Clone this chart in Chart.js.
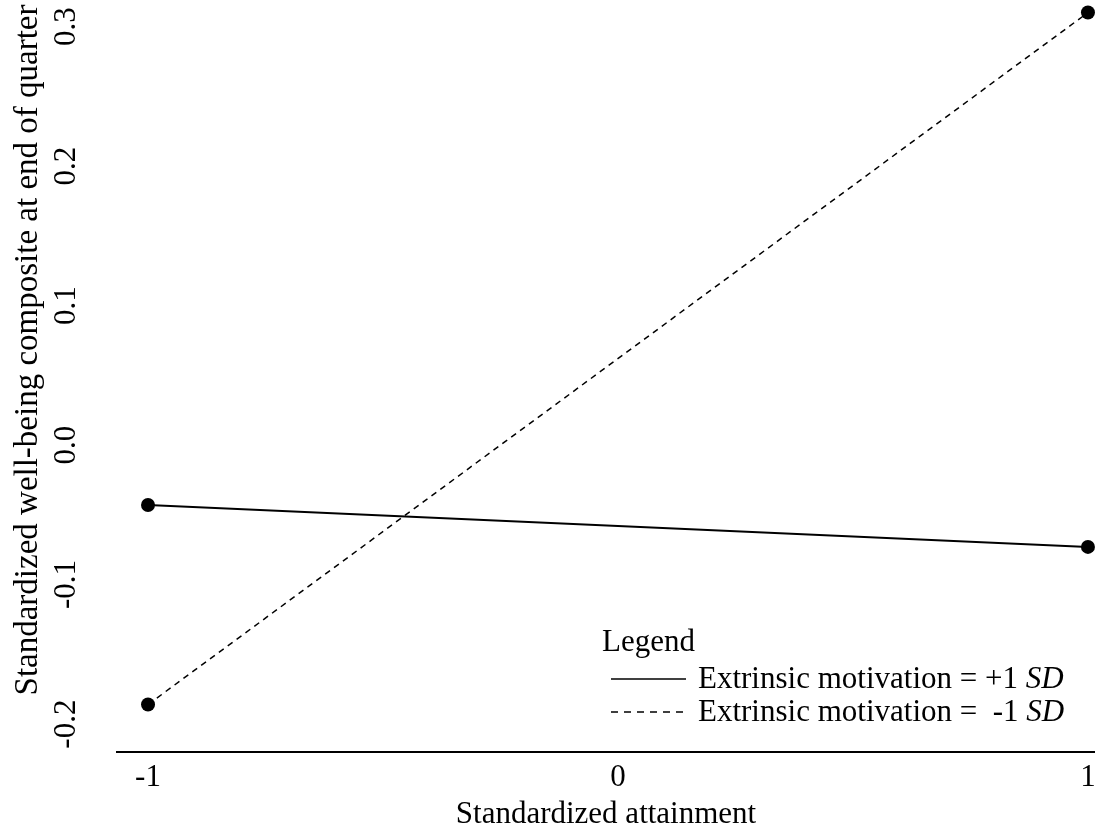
<!DOCTYPE html>
<html>
<head>
<meta charset="utf-8">
<script src="https://cdn.jsdelivr.net/npm/chart.js@4/dist/chart.umd.min.js"></script>
<style>
  html, body { margin: 0; padding: 0; background: #fff; overflow: hidden; }
  #wrap { width: 1095px; height: 828px; position: relative; }
</style>
</head>
<body>
<div id="wrap"><canvas id="chart"></canvas></div>
<script>
const xValues = [-1, 1];
const xTicks = [-1, 0, 1];
const yTicks = [-0.2, -0.1, 0.0, 0.1, 0.2, 0.3];
const highExtrinsic = [-0.043, -0.073];
const lowExtrinsic = [-0.186, 0.31];

const seriesLabels = ["Extrinsic motivation = +1 ", "Extrinsic motivation =  -1 "];
const seriesUnit = "SD";
const legendTitle = "Legend";
const xTitle = "Standardized attainment";
const yTitle = "Standardized well-being composite at end of quarter";

const FONT = '"Liberation Serif", "Times New Roman", serif';

const toPoints = (vals) => xValues.map((x, i) => ({ x: x, y: vals[i] }));

// tick labels, y title and legend are drawn by hand (rotated text, italic SD)
const extras = {
  id: "extras",
  afterDraw(chart) {
    const ctx = chart.ctx;
    const x = chart.scales.x;
    const y = chart.scales.y;
    ctx.save();
    ctx.fillStyle = "#000";
    ctx.font = "31px " + FONT;
    ctx.textAlign = "center";
    ctx.textBaseline = "alphabetic";
    xTicks.forEach(v => {
      ctx.fillText(String(v), x.getPixelForValue(v), 786);
    });
    yTicks.forEach(v => {
      ctx.save();
      ctx.translate(75, y.getPixelForValue(v));
      ctx.rotate(-Math.PI / 2);
      ctx.fillText(v.toFixed(1), 0, 0);
      ctx.restore();
    });
    ctx.save();
    ctx.font = "33px " + FONT;
    ctx.translate(37, 350);
    ctx.rotate(-Math.PI / 2);
    ctx.fillText(yTitle, 0, 0);
    ctx.restore();

    // legend
    ctx.textAlign = "left";
    ctx.fillText(legendTitle, 602, 651);
    const rows = [679, 712];
    chart.data.datasets.forEach((ds, i) => {
      const ly = rows[i];
      ctx.save();
      ctx.strokeStyle = ds.borderColor;
      ctx.lineWidth = 1.5;
      ctx.setLineDash(ds.borderDash ? [7, 6] : []);
      ctx.beginPath();
      ctx.moveTo(611, ly);
      ctx.lineTo(686, ly);
      ctx.stroke();
      ctx.restore();
      ctx.font = "31px " + FONT;
      ctx.fillText(seriesLabels[i], 698, ly + 9);
      const w = ctx.measureText(seriesLabels[i]).width;
      ctx.font = "italic 31px " + FONT;
      ctx.fillText(seriesUnit, 698 + w, ly + 9);
    });
    ctx.restore();
  }
};

new Chart(document.getElementById("chart"), {
  type: "line",
  data: {
    datasets: [
      {
        label: seriesLabels[0] + seriesUnit,
        data: toPoints(highExtrinsic),
        borderColor: "#000",
        backgroundColor: "#000",
        borderWidth: 2,
        pointRadius: 7,
        pointBackgroundColor: "#000",
        pointBorderWidth: 0,
        clip: false,
      },
      {
        label: seriesLabels[1] + seriesUnit,
        data: toPoints(lowExtrinsic),
        borderColor: "#000",
        backgroundColor: "#000",
        borderWidth: 1.5,
        borderDash: [6, 5],
        pointRadius: 7,
        pointBackgroundColor: "#000",
        pointBorderWidth: 0,
        clip: false,
      },
    ],
  },
  options: {
    responsive: true,
    maintainAspectRatio: false,
    animation: false,
    layout: { padding: 0, autoPadding: false },
    plugins: {
      legend: { display: false },
      tooltip: { enabled: false },
    },
    scales: {
      x: {
        type: "linear",
        min: -1.066,
        max: 1.015,
        afterBuildTicks: (scale) => { scale.ticks = xTicks.map(v => ({ value: v })); },
        afterFit: (scale) => { scale.height = 76; },
        grid: { display: false, drawTicks: false },
        border: { display: true, color: "#000", width: 2 },
        ticks: { display: false },
        title: {
          display: true,
          text: xTitle,
          color: "#000",
          padding: { top: 0, bottom: -5 },
          font: { family: FONT, size: 31 },
        },
      },
      y: {
        type: "linear",
        min: -0.22,
        max: 0.319,
        afterBuildTicks: (scale) => { scale.ticks = yTicks.map(v => ({ value: v })); },
        afterFit: (scale) => { scale.width = 117; },
        grid: { display: false, drawTicks: false },
        border: { display: false },
        ticks: { display: false },
      },
    },
  },
  plugins: [extras],
});
</script>
</body>
</html>
